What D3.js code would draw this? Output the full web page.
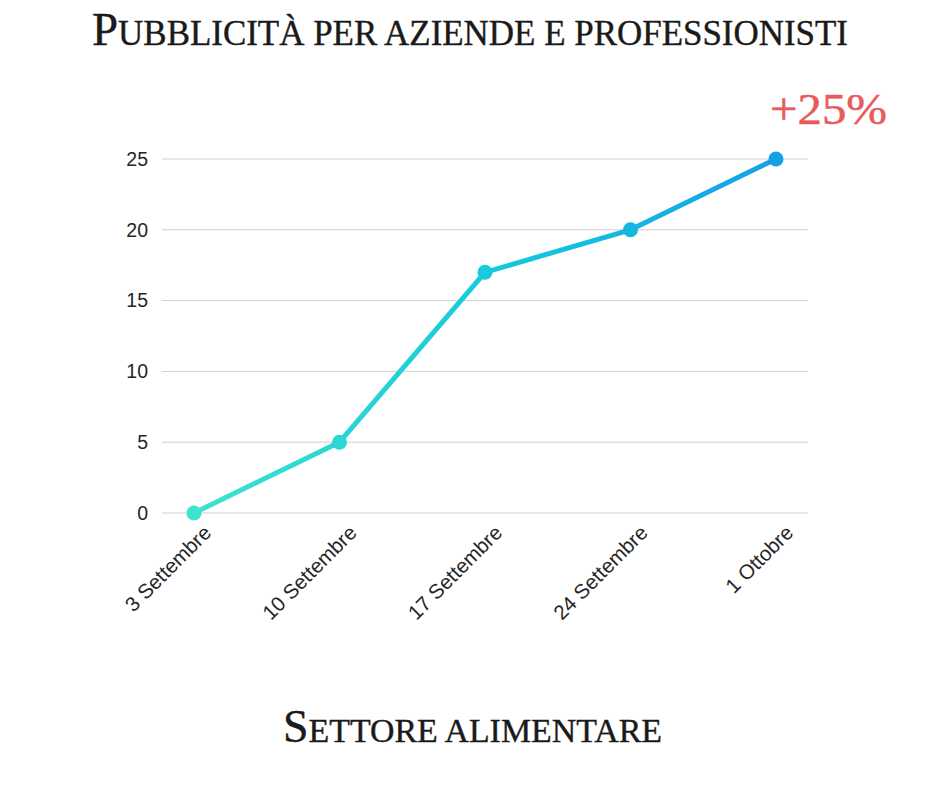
<!DOCTYPE html>
<html><head><meta charset="utf-8">
<script src="https://cdn.jsdelivr.net/npm/d3@7/dist/d3.min.js"></script>
<style>body{margin:0;background:#fff}svg{display:block}</style>
</head><body>
<svg id="c" width="940" height="788"></svg>
<script>
const categories = ["3 Settembre","10 Settembre","17 Settembre","24 Settembre","1 Ottobre"];
const values = [0,5,17,20,25];
const yTicks = [0,5,10,15,20,25];
const title = "Pubblicità per aziende e professionisti";
const subtitle = "Settore alimentare";
const annotation = "+25%";

const svg = d3.select("#c");
const x = d3.scalePoint().domain(categories).range([162,808]).padding(0.22);
const y = d3.scaleLinear().domain([0,25]).range([513,159]);

svg.append("g").selectAll("line").data(yTicks).join("line")
  .attr("x1",162).attr("x2",808)
  .attr("y1",d=>y(d)).attr("y2",d=>y(d))
  .attr("stroke","#cfcfcf").attr("stroke-width",1);

const yAxis = svg.append("g").attr("transform","translate(162,0)")
  .call(d3.axisLeft(y).tickValues(yTicks).tickSize(0).tickPadding(14));
yAxis.select(".domain").remove();
yAxis.selectAll("text").style("font-family","Liberation Sans, Arial, sans-serif").style("font-size","19.5px").attr("fill","#262626");

const xAxis = svg.append("g").attr("transform","translate(0,513)")
  .call(d3.axisBottom(x).tickSize(0).tickPadding(0));
xAxis.select(".domain").remove();
xAxis.selectAll("text")
  .style("font-family","Liberation Sans, Arial, sans-serif").style("font-size","20.5px").attr("fill","#262626")
  .attr("text-anchor","end").attr("dy",0)
  .attr("transform","translate(18,21) rotate(-45)");

const defs = svg.append("defs");
const g = defs.append("linearGradient").attr("id","lg").attr("gradientUnits","userSpaceOnUse")
  .attr("x1",x(categories[0])).attr("x2",x(categories[4])).attr("y1",0).attr("y2",0);
const stops = [[0,"#3de3cf"],[0.55,"#14c8dc"],[1,"#179fe8"]];
stops.forEach(s=>g.append("stop").attr("offset",s[0]).attr("stop-color",s[1]));
const colorScale = d3.scaleLinear().domain(stops.map(s=>s[0])).range(stops.map(s=>s[1]));

const data = categories.map((c,i)=>({c,v:values[i],i}));
svg.append("path").datum(data)
  .attr("d",d3.line().x(d=>x(d.c)).y(d=>y(d.v)))
  .attr("fill","none").attr("stroke","url(#lg)").attr("stroke-width",5).attr("stroke-linejoin","round").attr("stroke-linecap","round");

svg.append("g").selectAll("circle").data(data).join("circle")
  .attr("cx",d=>x(d.c)).attr("cy",d=>y(d.v)).attr("r",7.5)
  .attr("fill",d=>colorScale(d.i/(categories.length-1)));

function smallCaps(sel, text, big, small){
  const runs = [];
  for(const ch of text){
    const up = ch !== ch.toLowerCase();
    const last = runs[runs.length-1];
    if(last && last.up===up) last.t+=ch; else runs.push({up,t:ch});
  }
  sel.selectAll("tspan").data(runs).join("tspan")
    .attr("font-size",d=>d.up?big:small).text(d=>d.t.toUpperCase());
}

const t1 = svg.append("text").attr("x",92).attr("y",45)
  .attr("font-family","Liberation Serif, DejaVu Serif, serif")
  .attr("fill","#1a1a1a").attr("stroke","#1a1a1a").attr("stroke-width",0.4)
  .attr("textLength",756).attr("lengthAdjust","spacingAndGlyphs");
smallCaps(t1,title,47,35);

const t2 = svg.append("text").attr("x",283).attr("y",742)
  .attr("font-family","Liberation Serif, DejaVu Serif, serif")
  .attr("fill","#1a1a1a").attr("stroke","#1a1a1a").attr("stroke-width",0.4)
  .attr("textLength",379).attr("lengthAdjust","spacingAndGlyphs");
smallCaps(t2,subtitle,46,34);

svg.append("text").attr("x",770).attr("y",124)
  .attr("font-family","Liberation Serif, DejaVu Serif, serif").attr("font-size",45)
  .attr("fill","#e95b5b").attr("stroke","#e95b5b").attr("stroke-width",0.5)
  .attr("textLength",117).attr("lengthAdjust","spacingAndGlyphs")
  .text(annotation);
</script>
</body></html>
